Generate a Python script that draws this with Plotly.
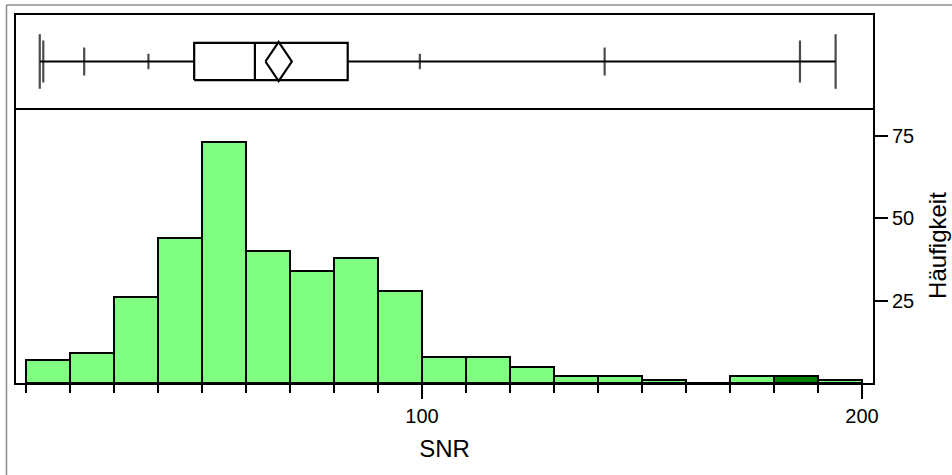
import plotly.graph_objects as go

# ---- data ----
bin_left = list(range(10, 200, 10))            # SNR bins, width 10
counts = [7, 9, 26, 44, 73, 40, 34, 38, 28, 8, 8, 5, 2, 2, 1, 0, 2, 2, 1]
selected = [0] * 17 + [1] + [0]                # bin 180-190 highlighted

quant_names = ["min", "0.5%", "2.5%", "10%", "25%", "50%", "75%", "90%", "97.5%", "99.5%", "max"]
quant_vals = [13.1, 13.9, 23.2, 37.8, 48.2, 62.0, 83.1, 99.5, 141.5, 185.9, 194.0]
mean_val = 67.4
mean_ci = [64.4, 70.4]

x_tickvals = [100, 200]
y_tickvals = [25, 50, 75]

q = dict(zip(quant_names, quant_vals))
BIN_W = 10
LIGHT = "#80FF80"
DARK = "#007F00"

fig = go.Figure()

# histogram
fig.add_trace(go.Bar(
    x=[b + BIN_W / 2 for b in bin_left], y=counts, width=BIN_W,
    marker=dict(color=[DARK if s else LIGHT for s in selected],
                line=dict(color="black", width=2)),
    xaxis="x", yaxis="y", showlegend=False, hoverinfo="x+y"))

# box plot panel (y2 in [0,1], centre 0.5)
C, BH, DH = 0.5, 0.2, 0.21
line = dict(color="black", width=2.2)
fig.add_trace(go.Scatter(
    x=[q["min"], q["25%"], None, q["75%"], q["max"]],
    y=[C, C, None, C, C], mode="lines", line=line,
    xaxis="x2", yaxis="y2", showlegend=False, hoverinfo="skip"))
fig.add_trace(go.Scatter(
    x=[q["25%"], q["75%"], q["75%"], q["25%"], q["25%"]],
    y=[C - BH, C - BH, C + BH, C + BH, C - BH], mode="lines", line=line,
    xaxis="x2", yaxis="y2", showlegend=False, hoverinfo="skip"))
fig.add_trace(go.Scatter(
    x=[q["50%"], q["50%"]], y=[C - BH, C + BH], mode="lines", line=line,
    xaxis="x2", yaxis="y2", showlegend=False, hoverinfo="skip"))
fig.add_trace(go.Scatter(
    x=[mean_ci[0], mean_val, mean_ci[1], mean_val, mean_ci[0]],
    y=[C, C + DH, C, C - DH, C], mode="lines", line=line,
    xaxis="x2", yaxis="y2", showlegend=False, hoverinfo="skip"))

tick_names = ["min", "0.5%", "2.5%", "10%", "90%", "97.5%", "99.5%", "max"]
tick_sizes = [39, 30, 20, 11, 11, 20, 30, 39]
fig.add_trace(go.Scatter(
    x=[q[n] for n in tick_names], y=[C] * len(tick_names), mode="markers",
    marker=dict(symbol="line-ns", size=tick_sizes, color="black",
                line=dict(color="black", width=2.2)),
    text=tick_names, hoverinfo="text+x",
    xaxis="x2", yaxis="y2", showlegend=False))

W, H = 952, 475
ML, MR, MT, MB = 16, 79, 15, 92
pw, ph = W - ML - MR, H - MT - MB
split = 1 - 93 / ph

axis_common = dict(showgrid=False, zeroline=False, showline=True, linecolor="black",
                   linewidth=2)

fig.update_layout(
    width=W, height=H, margin=dict(l=ML, r=MR, t=MT, b=MB, autoexpand=False),
    paper_bgcolor="white", plot_bgcolor="white",
    font=dict(family="Liberation Sans, Arial, sans-serif", size=20, color="black"),
    bargap=0,
    xaxis=dict(axis_common, domain=[0, 1], range=[7.7, 202.5], anchor="y", mirror=False,
               tickmode="array", tickvals=x_tickvals, ticks="outside", ticklen=14,
               tickwidth=2, tickcolor="black",
               minor=dict(tickmode="linear", tick0=0, dtick=10, ticks="outside",
                          ticklen=8, tickwidth=2, tickcolor="black"),
               title=dict(text="SNR", standoff=14)),
    yaxis=dict(axis_common, domain=[0, split], range=[0, 83.4], anchor="x", side="right",
               mirror=True, tickmode="array", tickvals=y_tickvals, ticks="outside",
               ticklen=13, tickwidth=2, tickcolor="black",
               title=dict(text="Häufigkeit", standoff=16)),
    xaxis2=dict(axis_common, domain=[0, 1], anchor="y2", matches="x", mirror=True,
                showticklabels=False, ticks=""),
    yaxis2=dict(axis_common, domain=[split, 1], range=[0, 1], anchor="x2", mirror=True,
                showticklabels=False, ticks=""),
)

# thin grey outer frame (left and top)
fx = (6.5 - ML) / pw
fy = 1 + (MT - 5) / ph
for x0, y0, x1, y1 in [(fx, fy, 1.2, fy), (fx, fy, fx, -0.4)]:
    fig.add_shape(type="line", xref="paper", yref="paper", x0=x0, y0=y0, x1=x1, y1=y1,
                  line=dict(color="#8c8c8c", width=1.5), layer="below")

fig.write_html("out.html", config={"displayModeBar": False},
               post_script="document.body.style.margin='0';document.body.style.overflow='hidden';")
